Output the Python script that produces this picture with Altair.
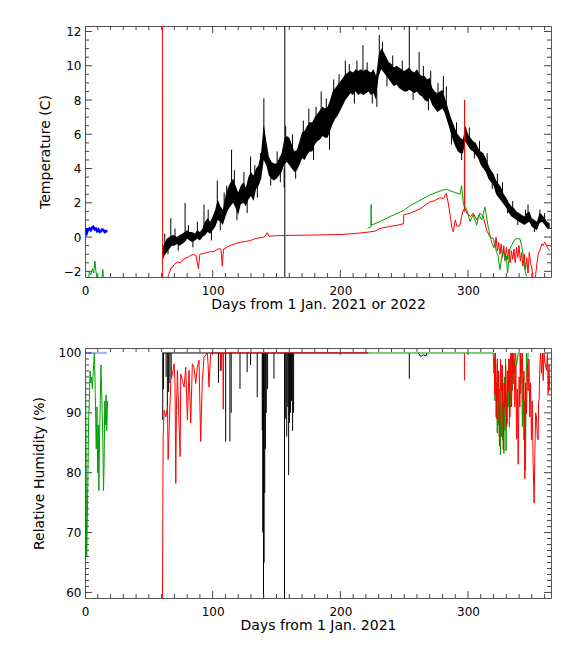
import altair as alt
import pandas as pd

FONT = "DejaVu Sans"
TICK = "#444444"
W, H1, H2 = 466, 251, 250
RED, GRN, BLU, BLK = "#ff0000", "#00a000", "#0000ff", "#000000"

# ---------------- Top panel: temperature (C) ----------------
blk_day = [60.7, 62, 64, 66, 68, 70, 72, 74, 76, 78, 80, 82, 84, 86, 88, 90, 92, 94, 96, 98,
           100, 102, 104, 106, 108, 110, 112, 114, 116, 118, 120, 122, 124, 126, 128, 130, 132, 134, 136, 138,
           140, 142, 144, 146, 148, 150, 152, 154, 156, 158, 160, 162, 164, 166, 168, 170, 172, 174, 176, 178,
           180, 182, 184, 186, 188, 190, 192, 194, 196, 198, 200, 202, 204, 206, 208, 210, 212, 214, 216, 218,
           220, 222, 224, 226, 228, 230, 232, 234, 236, 238, 240, 242, 244, 246, 248, 250, 252, 254, 256, 258,
           260, 262, 264, 266, 268, 270, 272, 274, 276, 278, 280, 282, 284, 286, 288, 290, 292, 294, 296, 298,
           300, 302, 304, 306, 308, 310, 312, 314, 316, 318, 320, 322, 324, 326, 328, 330, 332, 334, 336, 338,
           340, 342, 344, 346, 348, 350, 352, 354, 356, 358, 360, 362, 364]
blk_lo = [-1.4, -1.1, -0.9, -0.7, -0.5, -0.5, -0.4, -0.5, -0.4, -0.3, -0.1, -0.2, -0.3, -0.2, -0.1, -0.2, 0.0, 0.1, 0.3, 0.2,
          0.4, 0.6, 1.0, 0.9, 0.7, 1.2, 1.6, 1.8, 2.0, 1.7, 1.3, 1.9, 2.0, 1.8, 2.2, 2.4, 2.1, 2.8, 3.0, 3.4,
          4.5, 4.2, 3.6, 3.4, 3.3, 3.4, 3.6, 3.8, 4.2, 4.4, 4.2, 4.0, 3.8, 3.9, 4.2, 4.6, 4.5, 4.8, 5.0, 5.0,
          5.4, 5.6, 5.7, 5.9, 5.8, 5.8, 6.2, 6.6, 6.9, 7.1, 7.4, 7.7, 8.0, 8.2, 8.4, 8.3, 8.5, 8.3, 8.4, 8.3,
          8.4, 8.5, 8.3, 8.4, 8.0, 9.4, 9.8, 9.6, 9.4, 9.2, 9.0, 8.8, 8.9, 8.7, 8.6, 8.5, 8.5, 8.6, 8.5, 8.4,
          8.5, 8.3, 8.2, 8.0, 7.9, 8.1, 7.7, 7.5, 7.3, 7.4, 7.5, 7.2, 6.7, 6.2, 5.7, 5.3, 5.0, 4.9, 4.9, 5.6,
          5.3, 5.1, 5.0, 4.8, 4.6, 4.2, 4.0, 3.8, 3.4, 3.2, 3.0, 2.5, 2.3, 2.1, 1.9, 1.7, 1.4, 1.2, 1.1, 1.0,
          0.9, 0.8, 0.7, 0.8, 0.9, 0.6, 0.5, 0.4, 0.8, 0.9, 0.7, 0.5, 0.5]
blk_hi = [-0.6, -0.4, -0.1, 0.0, 0.1, 0.1, 0.0, 0.1, 0.2, 0.3, 0.4, 0.3, 0.3, 0.2, 0.4, 0.3, 0.5, 0.9, 1.1, 0.9,
          1.2, 1.6, 2.2, 1.8, 1.6, 2.4, 2.9, 3.2, 3.4, 3.0, 2.6, 3.0, 3.2, 2.9, 3.5, 3.8, 3.6, 4.0, 4.2, 5.0,
          6.6, 5.6, 4.7, 4.4, 4.3, 4.3, 4.6, 4.9, 5.7, 5.9, 5.8, 5.4, 5.0, 5.1, 5.6, 6.1, 6.2, 6.5, 6.7, 6.7,
          7.0, 7.2, 7.4, 7.6, 7.5, 7.6, 8.0, 8.5, 8.7, 8.9, 9.1, 9.3, 9.5, 9.6, 9.7, 9.6, 9.8, 9.7, 9.8, 9.7,
          9.8, 9.7, 9.6, 9.8, 9.4, 10.6, 11.0, 10.8, 10.5, 10.2, 10.1, 9.9, 10.0, 9.9, 9.8, 9.7, 9.8, 9.9, 9.7, 9.6,
          9.8, 9.5, 9.4, 9.4, 9.2, 9.3, 8.7, 8.5, 8.4, 8.5, 8.6, 8.1, 7.6, 7.1, 6.7, 6.3, 6.0, 5.8, 5.7, 6.5,
          6.0, 5.8, 5.6, 5.5, 5.2, 5.0, 4.9, 4.6, 4.2, 3.9, 3.7, 3.3, 3.1, 2.9, 2.5, 2.3, 2.0, 1.8, 1.7, 1.5,
          1.4, 1.3, 1.2, 1.4, 1.5, 1.1, 1.0, 0.9, 1.4, 1.3, 1.1, 0.9, 0.8]

# spikes of the black record (day, tip, base); some reach beyond the frame
blk_spk_day = [67.2, 78.4, 88.0, 93.2, 103.6, 114.8, 129.7, 137.5, 140.1, 156.0, 156.5, 157.2, 175.3,
               185.0, 194.8, 203.9, 217.7, 228.6, 230.5, 254.0, 261.7, 270.8, 280.7, 347.0, 356.3,
               62.5, 65, 70.5, 73, 81, 84.5, 96.5, 99, 106, 109, 111, 117, 119, 124.5, 127, 133, 135,
               145.5, 150.5, 153, 162.5, 165, 171, 179, 181, 189, 191.5, 199, 207, 211, 213, 221, 225,
               233, 236.5, 241, 248.5, 257, 265, 269, 276.5, 283, 287, 291, 295, 301, 305, 309, 315,
               319, 323, 327, 331, 335, 339, 345, 352, 360]
blk_spk_top = [1.1, 2.0, 0.9, 1.9, 3.3, 5.1, 4.7, 4.9, 8.1, 2.9, 20.0, 6.5, 7.5,
               8.5, 9.2, 10.3, 11.2, 7.6, 11.8, 20.0, 10.8, 9.7, 9.4, 1.9, 1.6,
               0.2, -1.0, 0.5, -0.8, 0.7, -0.6, 1.6, -0.2, 0.4, 2.6, 3.0, 3.9, 1.0, 3.8, 1.4, 4.2, 2.3,
               3.0, 5.0, 3.2, 6.0, 3.4, 6.8, 4.5, 7.6, 8.1, 5.1, 9.5, 10.1, 7.8, 10.3, 10.2, 7.8,
               11.4, 8.8, 10.6, 10.3, 8.0, 10.0, 7.4, 9.0, 8.8, 5.4, 6.7, 4.5, 6.4, 4.6, 5.6, 4.9,
               2.8, 3.7, 3.2, 1.4, 2.1, 0.7, 1.6, 0.3, 1.4]
blk_spk_base = [0.0, 0.2, 0.2, 0.4, 1.4, 3.0, 3.5, 4.0, 6.0, 4.0, -5.0, 5.5, 6.0,
                7.0, 8.2, 9.2, 9.6, 8.5, 10.5, 9.0, 9.4, 9.0, 8.4, 1.2, 1.2,
                -0.6, -0.4, -0.2, -0.2, 0.0, 0.0, 0.6, 0.5, 1.2, 1.6, 2.0, 2.5, 2.0, 2.6, 2.2, 3.0, 3.2,
                3.8, 4.0, 4.0, 5.0, 4.2, 5.8, 5.5, 6.6, 7.2, 6.2, 8.4, 9.3, 8.6, 9.5, 9.4, 8.6,
                10.4, 9.6, 9.7, 9.5, 8.7, 9.2, 8.2, 8.2, 7.6, 6.2, 5.8, 5.2, 5.6, 5.2, 4.8, 4.2,
                3.4, 3.0, 2.5, 1.9, 1.5, 1.2, 1.0, 0.8, 0.9]

red_day = [60.6, 60.8, 64.6, 67.2, 70, 72.4, 75, 77.6, 80, 82.8, 85, 87, 88.8, 90, 93.2, 96, 98, 101, 103,
           104.9, 106.5, 107.5, 108.5, 111.5, 115, 118, 122, 126, 129.7, 133, 136, 140, 141.5, 142.7, 144,
           150, 160, 180, 200, 210, 220.8, 227.3, 231, 239, 245, 249.5, 249.6, 255, 262.5, 270, 273, 278,
           280.7, 283, 284.5, 286, 287.5, 288.5, 290, 291.5, 293.75, 295, 296.4, 297.1, 297.3, 297.5, 299,
           302, 304, 307, 309.4, 312, 314.6, 317.2, 320, 321, 322, 323, 324, 325, 326, 327, 328, 329, 330,
           331, 332, 333, 334, 335, 336, 337, 338, 339, 340, 341, 342, 343, 344, 345, 346, 347, 348, 349,
           350, 351, 352, 353, 354, 355, 356, 357, 358, 359, 360, 361, 362, 363, 364]
red_val = [13.0, -2.6, -2.4, -1.85, -1.6, -1.45, -1.5, -1.25, -1.2, -1.07, -1.0, -1.1, -1.85, -1.0, -0.95,
           -0.9, -0.85, -0.85, -0.75, -0.68, -0.7, -1.7, -0.7, -0.58, -0.45, -0.38, -0.3, -0.25, -0.2, -0.1,
           -0.05, 0.0, 0.1, 0.25, 0.05, 0.08, 0.1, 0.12, 0.15, 0.2, 0.28, 0.35, 0.5, 0.62, 0.7, 0.78, 1.3,
           1.4, 1.65, 2.05, 2.1, 2.3, 2.25, 2.55, 2.0, 1.3, 0.5, 0.3, 1.0, 0.6, 0.7, 1.2, 1.6, 1.5, 8.0,
           1.7, 1.4, 1.2, 1.4, 1.0, 1.4, 1.2, 0.4, 0.0, -0.1, -0.6, 0.0, -0.8, -0.3, -1.0, -0.4, -1.2,
           -0.5, -1.4, -0.6, -1.3, -0.7, -1.5, -0.8, -1.3, -0.7, -1.5, -0.6, -1.2, -0.5, -1.4, -0.9, -1.7,
           -1.0, -1.9, -1.2, -2.1, -0.9, -1.5, -1.8, -2.4, -2.7, -2.2, -1.5, -1.0, -0.8, -0.6, -0.4, -0.5,
           -0.3, -0.4, -0.6, -0.7, -0.8]

grn_day = [221.3, 224, 224.1, 224.3, 231, 239, 245, 249.5, 255, 262.5, 270, 275, 280.7, 283, 285.9, 290,
           293.75, 295, 296.4, 299, 301.6, 304, 306.8, 308.5, 310.7, 313.3, 316, 318.5, 320, 321, 322.4,
           323.5, 325, 326, 327.6, 329, 330, 331, 332.8, 334, 335.4, 337, 340.6, 342, 343.2, 344.5, 345.8]
grn_val = [0.5, 0.6, 1.9, 0.7, 0.9, 1.2, 1.4, 1.55, 1.85, 2.15, 2.45, 2.6, 2.75, 2.8, 2.7, 2.6,
           2.5, 3.0, 1.9, 1.6, 0.9, 1.3, 0.7, 1.3, 1.0, 1.75, 0.5, -0.3, -0.6, -0.4, -0.9,
           -1.1, -1.9, -1.4, -0.7, -1.3, -1.1, -2.1, -0.7, -0.5, -0.3, -0.1, -0.1, -0.5, -1.0, -1.9, -2.3]

grn0_day = [0.2, 0.4, 2.5, 3.4, 4.5, 6.0, 6.8, 7.8, 8.6, 9.5, 13.0, 14.0, 14.6]
grn0_val = [-0.5, -2.6, -2.6, -2.0, -2.2, -1.85, -2.1, -1.4, -2.0, -2.6, -2.6, -1.9, -2.6]

blu_day = [0.8, 1.5, 2.5, 3.5, 4.5, 5.5, 6.5, 7.5, 8.5, 9.5, 10.5, 11.5, 12.5, 13.5, 14.5, 15.5, 16.5, 17.5]
blu_val = [0.5, 0.25, 0.45, 0.5, 0.4, 0.55, 0.6, 0.45, 0.5, 0.35, 0.45, 0.3, 0.35, 0.45, 0.4, 0.3, 0.35, 0.3]

# ---------------- Bottom panel: relative humidity (%) ----------------
rh_blu_day = [0.8, 17.2]
rh_blu_val = [100, 100]

rh_grn0_day = [0.3, 0.8, 1.3, 1.8, 2.3, 2.8, 3.4, 4.0, 4.6, 5.2, 5.8, 6.5, 7.3, 7.8, 8.3, 8.8, 9.4,
               9.9, 10.4, 10.9, 11.4, 12.0, 12.5, 13.0, 13.5, 14.0, 14.5, 15.0, 15.5, 16.0, 16.5, 17.0, 17.7]
rh_grn0_val = [100, 85, 66, 72, 80, 88, 92, 97, 95, 96, 94, 97, 100, 96, 90, 84, 91,
               80, 88, 77, 86, 92, 98, 94, 90, 85, 77, 82, 92, 88, 93, 87, 92]

rh_blk_day = [60.7, 222.0]
rh_blk_val = [100, 100]
rh_blk_dip_day = [60.9, 61.5, 63.5, 64.5, 65.5, 66.5, 67.5, 104.5, 106, 110.2, 113.5, 114.5, 121.4, 127,
                  129.7, 134.9, 138.8, 139.2, 139.8, 140.3, 140.8, 141.3, 142, 143, 148, 156.25, 157.2,
                  158, 158.8, 159.5, 160.2, 161, 161.8, 162.6, 163.4, 254.0]
rh_blk_dip_val = [88.8, 94, 96, 91, 93.5, 95, 96, 95, 97, 85.2, 85.2, 90, 94, 96.8,
                  98, 92.6, 87.1, 70, 55, 65, 76.6, 84, 90, 94, 95.7, 55, 89,
                  86, 91, 79.6, 88.3, 90, 92, 87, 90, 95.7]
rh_blk_wig_day = [261, 263, 265, 267, 268]
rh_blk_wig_val = [100, 99.4, 99.7, 99.5, 100]

rh_red_day = [60.6, 60.7, 61.0, 61.2, 62.0, 63.3, 64.6, 65.1, 65.9, 67.2, 68.5, 69.8, 70.5, 71.1, 71.6,
              72.4, 73.7, 74.5, 75, 76.3, 77.6, 78.9, 80.2, 81.5, 82.8, 84.1, 85.4, 86.7, 88, 89.3, 90.6,
              91.9, 93.2, 95.8, 96.4, 97.1, 98.4, 106.25, 106.6, 107, 108, 108.3, 108.6, 222]
rh_red_val = [55, 59.9, 76, 86, 90.4, 89.3, 91.1, 82.2, 87.2, 95.4, 96.5, 98.2, 95, 78.2, 90.4,
              97.1, 87.7, 82.7, 96.5, 95.4, 94.3, 97.6, 88.8, 97.1, 88.3, 98.2, 97.6, 94.9, 97.6, 98.8, 85.2,
              95.4, 99.3, 100, 98.2, 94.3, 100, 100, 97.1, 100, 100, 90.6, 100, 100]

rh_grn_day = [222, 319.8, 320.3, 320.8, 321.1, 321.6, 322.0, 322.4, 322.9, 323.4, 323.7, 324.2, 324.6,
              325.0, 325.4, 325.8, 326.3, 326.8, 327.2, 327.6, 328.1, 328.5, 328.9, 329.4, 329.8, 330.2,
              330.7, 331.1, 331.5, 332.0, 332.4, 332.8, 333.3, 334.1, 334.6, 335.0, 335.4, 336.0, 336.7,
              337.2, 338, 339.3, 340.6, 341.2, 341.9, 342.6, 343.2, 343.8, 344.5, 345.0, 345.5, 345.8,
              346.5, 347.1]
rh_grn_val = [100, 100, 96.6, 99, 92, 98, 89.3, 95, 86.6, 96, 88, 94, 84.4,
              92, 83.0, 95, 86, 98, 85.5, 92, 83.2, 96, 87, 99, 83.7, 93,
              88.2, 97, 91, 99, 87.6, 96, 91, 100, 93.7, 100, 94.8, 99, 96.6,
              100, 98, 100, 100, 93.2, 99, 87.7, 96, 85.5, 92, 80.4, 94, 100,
              97, 100]

rh_red2_day = [320.5, 321.0, 321.5, 322.0, 322.5, 323.0, 323.5, 324.0, 324.5, 325.0, 325.5, 326.3, 326.8,
               327.6, 328.2, 328.9, 329.5, 330.2, 330.8, 331.5, 332.2, 332.8, 333.5, 334.1, 335.0, 335.4,
               336.0, 336.7, 337.5, 338, 338.6, 339.3, 340.0, 340.6, 341.2, 341.9, 342.5, 343.2, 343.8,
               344.5, 345.1, 345.8, 346.5, 347.1, 347.7, 348.4, 349.0, 349.7, 350.3, 351, 351.8, 352.3,
               353.0, 353.6, 354.3, 354.9, 355.3, 355.7, 356.25, 356.8, 357.6, 358.3, 358.9, 359.5,
               360.5, 361.5, 362.2, 362.8, 363.5, 364]
rh_red2_val = [100, 93, 100, 96, 89, 99, 92, 97, 86, 89.3, 99, 93.7, 98,
               83.9, 95, 91, 98, 87.7, 97, 93.7, 99, 89.3, 100, 91, 100, 96.6,
               100, 91, 98, 85.6, 94, 81.4, 96, 91, 100, 96.6, 100, 92.1, 97,
               79.0, 95, 89.9, 98, 93.7, 99, 89.3, 95, 85.5, 92, 81.5, 74.9, 82.6,
               90, 89.3, 86, 85.5, 92, 92.1, 97.7, 100, 96.6, 100, 95.4, 100,
               98, 97.1, 100, 93.2, 98, 93.7]

rh_red_spk_day = [297.2]
rh_red_spk_val = [95.4]

# ---------------- scales / axes ----------------
XDOM = [0, 365]
YT_DOM = [-2.33, 12.32]
YB_DOM = [59.07, 100.83]
XS = alt.Scale(domain=XDOM, nice=False, zero=False)

XMAJ = [0, 100, 200, 300]
XMIN = [v for v in range(0, 370, 10) if v % 100]
YT_MAJ = [-2, 0, 2, 4, 6, 8, 10, 12]
YT_MIN = [v / 2 for v in range(-4, 25) if v % 4]
YB_MAJ = [60, 70, 80, 90, 100]
YB_MIN = [v for v in range(60, 101) if v % 10]


def lab_x(title):
    return alt.Axis(values=XMAJ, ticks=False, tickSize=0, domain=False, grid=False, labelFlush=False,
                    labelFont=FONT, labelFontSize=12, labelColor="black", labelPadding=8,
                    title=title, titleFont=FONT, titleFontSize=14, titleFontWeight="normal",
                    titleColor="black", titleY=20, titleBaseline="top")


def lab_y(values, title, tx):
    return alt.Axis(values=values, ticks=False, tickSize=0, domain=False, grid=False, labelFlush=False,
                    labelFont=FONT, labelFontSize=12, labelColor="black", labelPadding=4,
                    title=title, titleFont=FONT, titleFontSize=14, titleFontWeight="normal",
                    titleColor="black", titleX=tx, titleBaseline="top")


def frame_ticks(ydom, h, ymaj, ymin):
    """Inward IDL-style ticks on all four frame edges, as segments in data units."""
    rows = []
    x0, x1 = XDOM
    y0, y1 = ydom
    for vals, size in ((XMAJ, 7), (XMIN, 4)):
        d = (y1 - y0) * size / h
        for v in vals:
            rows.append((v, v, y0, y0 + d, TICK))
            rows.append((v, v, y1, y1 - d, TICK))
    for vals, size in ((ymaj, 7), (ymin, 4)):
        d = (x1 - x0) * size / W
        for v in vals:
            rows.append((x0, x0 + d, v, v, TICK))
            rows.append((x1, x1 - d, v, v, TICK))
    return rows


class Panel:
    """All layers of one panel share the same scales and identical axis definitions."""

    def __init__(self, ydom, ax, ay, h):
        self.ydom, self.ax, self.ay, self.h = ydom, ax, ay, h
        self.ys = alt.Scale(domain=ydom, nice=False, zero=False)

    def X(self, f):
        return alt.X(f, scale=XS, axis=self.ax)

    def Y(self, f):
        return alt.Y(f, scale=self.ys, axis=self.ay)

    def line(self, day, val, color, sw=1.0, op=1.0):
        df = pd.DataFrame({"day": day, "val": val})
        return alt.Chart(df).mark_line(color=color, strokeWidth=sw, opacity=op, clip=True).encode(
            x=self.X("day:Q"), y=self.Y("val:Q"))

    def segments(self, rows):
        df = pd.DataFrame(rows, columns=["x", "x2", "y", "y2", "col"])
        return alt.Chart(df).mark_rule(strokeWidth=1, clip=True).encode(
            x=self.X("x:Q"), x2="x2:Q", y=self.Y("y:Q"), y2="y2:Q",
            color=alt.Color("col:N", scale=None))


def vsegs(days, tops, bases, color):
    return [(d, d, t, b, color) for d, t, b in zip(days, tops, bases)]


# ---------------- top chart ----------------
P1 = Panel(YT_DOM, lab_x("Days from 1 Jan. 2021 or 2022"), lab_y(YT_MAJ, "Temperature (C)", -47), H1)
band_df = pd.DataFrame({"day": blk_day, "lo": blk_lo, "hi": blk_hi})
band = alt.Chart(band_df).mark_area(color=BLK, clip=True).encode(
    x=P1.X("day:Q"), y=P1.Y("lo:Q"), y2="hi:Q")
top = alt.layer(
    band,
    P1.segments(vsegs(blk_spk_day, blk_spk_top, blk_spk_base, BLK)
                + frame_ticks(YT_DOM, H1, YT_MAJ, YT_MIN)),
    P1.line(red_day, red_val, RED),
    P1.line(grn_day, grn_val, GRN),
    P1.line(grn0_day, grn0_val, GRN),
    P1.line(blu_day, blu_val, BLU, sw=2.5),
).properties(width=W, height=H1)

# ---------------- bottom chart ----------------
P2 = Panel(YB_DOM, lab_x("Days from 1 Jan. 2021"), lab_y(YB_MAJ, "Relative Humidity (%)", -53), H2)
bot = alt.layer(
    P2.line(rh_blk_day, rh_blk_val, BLK),
    P2.segments(vsegs(rh_blk_dip_day, rh_blk_dip_val, [100] * len(rh_blk_dip_day), BLK)
                + vsegs(rh_red_spk_day, rh_red_spk_val, [100], RED)
                + frame_ticks(YB_DOM, H2, YB_MAJ, YB_MIN)),
    P2.line(rh_blk_wig_day, rh_blk_wig_val, BLK),
    P2.line(rh_red_day, rh_red_val, RED),
    P2.line(rh_grn0_day, rh_grn0_val, GRN),
    P2.line(rh_blu_day, rh_blu_val, BLU, op=0.6),
    P2.line(rh_grn_day, rh_grn_val, GRN),
    P2.line(rh_red2_day, rh_red2_val, RED),
).properties(width=W, height=H2)

chart = alt.vconcat(top, bot, spacing=34).properties(
    padding={"left": 23, "top": 16, "right": 10, "bottom": 5},
    background="white",
).configure_view(stroke="#555555", strokeWidth=1)

chart.save("out.html", embed_options={"renderer": "svg", "actions": False})
